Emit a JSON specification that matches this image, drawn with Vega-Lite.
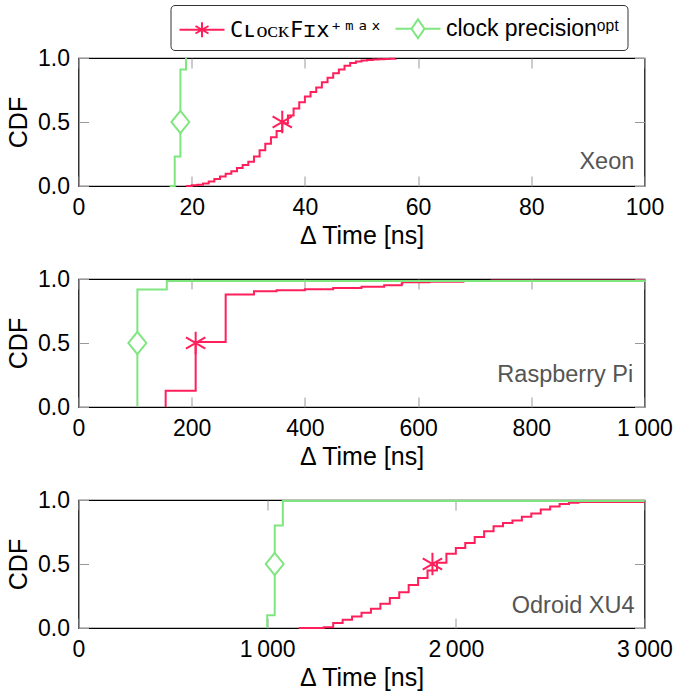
{
  "$schema": "https://vega.github.io/schema/vega-lite/v6.json",
  "padding": {"left": 5.5, "top": 3, "right": 0, "bottom": 0},
  "spacing": 18,
  "config": {
    "font": "Liberation Sans",
    "view": {"stroke": "black", "strokeWidth": 1.2},
    "axis": {
      "labelFont": "Liberation Sans", "labelFontSize": 23, "labelColor": "black",
      "titleFont": "Liberation Sans", "titleFontSize": 25, "titleFontWeight": "normal", "titleColor": "black",
      "tickColor": "#999", "tickSize": -10, "tickWidth": 1, "grid": false, "domain": false,
      "labelFlush": false, "labelOverlap": false
    },
    "axisX": {"labelPadding": 20, "titlePadding": 4},
    "axisY": {"labelPadding": 19, "titlePadding": 6}
  },
  "datasets": {
    "cdf": [
      {"p": "Xeon", "s": "ClockFix", "t": 19, "v": 0},
      {"p": "Xeon", "s": "ClockFix", "t": 20, "v": 0.005},
      {"p": "Xeon", "s": "ClockFix", "t": 21, "v": 0.01},
      {"p": "Xeon", "s": "ClockFix", "t": 22, "v": 0.02},
      {"p": "Xeon", "s": "ClockFix", "t": 23, "v": 0.035},
      {"p": "Xeon", "s": "ClockFix", "t": 24, "v": 0.055},
      {"p": "Xeon", "s": "ClockFix", "t": 25, "v": 0.075},
      {"p": "Xeon", "s": "ClockFix", "t": 26, "v": 0.095},
      {"p": "Xeon", "s": "ClockFix", "t": 27, "v": 0.115},
      {"p": "Xeon", "s": "ClockFix", "t": 28, "v": 0.14},
      {"p": "Xeon", "s": "ClockFix", "t": 29, "v": 0.165},
      {"p": "Xeon", "s": "ClockFix", "t": 30, "v": 0.19},
      {"p": "Xeon", "s": "ClockFix", "t": 31, "v": 0.23},
      {"p": "Xeon", "s": "ClockFix", "t": 32, "v": 0.28},
      {"p": "Xeon", "s": "ClockFix", "t": 33, "v": 0.33},
      {"p": "Xeon", "s": "ClockFix", "t": 34, "v": 0.38},
      {"p": "Xeon", "s": "ClockFix", "t": 35, "v": 0.43},
      {"p": "Xeon", "s": "ClockFix", "t": 36, "v": 0.49},
      {"p": "Xeon", "s": "ClockFix", "t": 37, "v": 0.55},
      {"p": "Xeon", "s": "ClockFix", "t": 38, "v": 0.605},
      {"p": "Xeon", "s": "ClockFix", "t": 39, "v": 0.655},
      {"p": "Xeon", "s": "ClockFix", "t": 40, "v": 0.70},
      {"p": "Xeon", "s": "ClockFix", "t": 41, "v": 0.735},
      {"p": "Xeon", "s": "ClockFix", "t": 42, "v": 0.77},
      {"p": "Xeon", "s": "ClockFix", "t": 43, "v": 0.81},
      {"p": "Xeon", "s": "ClockFix", "t": 44, "v": 0.845},
      {"p": "Xeon", "s": "ClockFix", "t": 45, "v": 0.88},
      {"p": "Xeon", "s": "ClockFix", "t": 46, "v": 0.91},
      {"p": "Xeon", "s": "ClockFix", "t": 47, "v": 0.94},
      {"p": "Xeon", "s": "ClockFix", "t": 48, "v": 0.96},
      {"p": "Xeon", "s": "ClockFix", "t": 49, "v": 0.972},
      {"p": "Xeon", "s": "ClockFix", "t": 50, "v": 0.98},
      {"p": "Xeon", "s": "ClockFix", "t": 51, "v": 0.985},
      {"p": "Xeon", "s": "ClockFix", "t": 52, "v": 0.988},
      {"p": "Xeon", "s": "ClockFix", "t": 53, "v": 0.99},
      {"p": "Xeon", "s": "ClockFix", "t": 54, "v": 0.992},
      {"p": "Xeon", "s": "ClockFix", "t": 55, "v": 0.994},
      {"p": "Xeon", "s": "ClockFix", "t": 56, "v": 0.995},
      {"p": "Xeon", "s": "clock precision", "t": 16.1, "v": 0},
      {"p": "Xeon", "s": "clock precision", "t": 17, "v": 0.23},
      {"p": "Xeon", "s": "clock precision", "t": 18, "v": 0.91},
      {"p": "Xeon", "s": "clock precision", "t": 19, "v": 1.0},
      {"p": "Raspberry Pi", "s": "ClockFix", "t": 154, "v": 0},
      {"p": "Raspberry Pi", "s": "ClockFix", "t": 154, "v": 0.127},
      {"p": "Raspberry Pi", "s": "ClockFix", "t": 207, "v": 0.508},
      {"p": "Raspberry Pi", "s": "ClockFix", "t": 260, "v": 0.879},
      {"p": "Raspberry Pi", "s": "ClockFix", "t": 310, "v": 0.905},
      {"p": "Raspberry Pi", "s": "ClockFix", "t": 350, "v": 0.912},
      {"p": "Raspberry Pi", "s": "ClockFix", "t": 400, "v": 0.92},
      {"p": "Raspberry Pi", "s": "ClockFix", "t": 450, "v": 0.93},
      {"p": "Raspberry Pi", "s": "ClockFix", "t": 500, "v": 0.94},
      {"p": "Raspberry Pi", "s": "ClockFix", "t": 540, "v": 0.952},
      {"p": "Raspberry Pi", "s": "ClockFix", "t": 571, "v": 0.963},
      {"p": "Raspberry Pi", "s": "ClockFix", "t": 572, "v": 0.975},
      {"p": "Raspberry Pi", "s": "ClockFix", "t": 620, "v": 0.978},
      {"p": "Raspberry Pi", "s": "ClockFix", "t": 680, "v": 0.984},
      {"p": "Raspberry Pi", "s": "ClockFix", "t": 730, "v": 0.988},
      {"p": "Raspberry Pi", "s": "ClockFix", "t": 1000, "v": 0.988},
      {"p": "Raspberry Pi", "s": "clock precision", "t": 104, "v": 0},
      {"p": "Raspberry Pi", "s": "clock precision", "t": 104, "v": 0.918},
      {"p": "Raspberry Pi", "s": "clock precision", "t": 156, "v": 0.985},
      {"p": "Raspberry Pi", "s": "clock precision", "t": 1000, "v": 0.99},
      {"p": "Odroid XU4", "s": "ClockFix", "t": 1167, "v": 0},
      {"p": "Odroid XU4", "s": "ClockFix", "t": 1300, "v": 0.005},
      {"p": "Odroid XU4", "s": "ClockFix", "t": 1350, "v": 0.04},
      {"p": "Odroid XU4", "s": "ClockFix", "t": 1400, "v": 0.065},
      {"p": "Odroid XU4", "s": "ClockFix", "t": 1450, "v": 0.09},
      {"p": "Odroid XU4", "s": "ClockFix", "t": 1500, "v": 0.12},
      {"p": "Odroid XU4", "s": "ClockFix", "t": 1550, "v": 0.15},
      {"p": "Odroid XU4", "s": "ClockFix", "t": 1600, "v": 0.19},
      {"p": "Odroid XU4", "s": "ClockFix", "t": 1650, "v": 0.235},
      {"p": "Odroid XU4", "s": "ClockFix", "t": 1700, "v": 0.28},
      {"p": "Odroid XU4", "s": "ClockFix", "t": 1750, "v": 0.335},
      {"p": "Odroid XU4", "s": "ClockFix", "t": 1800, "v": 0.39},
      {"p": "Odroid XU4", "s": "ClockFix", "t": 1850, "v": 0.45},
      {"p": "Odroid XU4", "s": "ClockFix", "t": 1900, "v": 0.51},
      {"p": "Odroid XU4", "s": "ClockFix", "t": 1950, "v": 0.58},
      {"p": "Odroid XU4", "s": "ClockFix", "t": 2000, "v": 0.625},
      {"p": "Odroid XU4", "s": "ClockFix", "t": 2050, "v": 0.665},
      {"p": "Odroid XU4", "s": "ClockFix", "t": 2100, "v": 0.71},
      {"p": "Odroid XU4", "s": "ClockFix", "t": 2150, "v": 0.755},
      {"p": "Odroid XU4", "s": "ClockFix", "t": 2200, "v": 0.795},
      {"p": "Odroid XU4", "s": "ClockFix", "t": 2250, "v": 0.82},
      {"p": "Odroid XU4", "s": "ClockFix", "t": 2300, "v": 0.84},
      {"p": "Odroid XU4", "s": "ClockFix", "t": 2350, "v": 0.87},
      {"p": "Odroid XU4", "s": "ClockFix", "t": 2400, "v": 0.895},
      {"p": "Odroid XU4", "s": "ClockFix", "t": 2450, "v": 0.925},
      {"p": "Odroid XU4", "s": "ClockFix", "t": 2500, "v": 0.95},
      {"p": "Odroid XU4", "s": "ClockFix", "t": 2550, "v": 0.968},
      {"p": "Odroid XU4", "s": "ClockFix", "t": 2600, "v": 0.978},
      {"p": "Odroid XU4", "s": "ClockFix", "t": 2650, "v": 0.985},
      {"p": "Odroid XU4", "s": "ClockFix", "t": 3000, "v": 0.985},
      {"p": "Odroid XU4", "s": "clock precision", "t": 1000, "v": 0},
      {"p": "Odroid XU4", "s": "clock precision", "t": 1000, "v": 0.1},
      {"p": "Odroid XU4", "s": "clock precision", "t": 1040, "v": 0.8},
      {"p": "Odroid XU4", "s": "clock precision", "t": 1083, "v": 0.993},
      {"p": "Odroid XU4", "s": "clock precision", "t": 3000, "v": 0.993}
    ],
    "med": [
      {"p": "Xeon", "m": "ClockFix median", "t": 36, "v": 0.5},
      {"p": "Xeon", "m": "clock precision median", "t": 18, "v": 0.5},
      {"p": "Raspberry Pi", "m": "ClockFix median", "t": 207, "v": 0.5},
      {"p": "Raspberry Pi", "m": "clock precision median", "t": 104, "v": 0.5},
      {"p": "Odroid XU4", "m": "ClockFix median", "t": 1876, "v": 0.5},
      {"p": "Odroid XU4", "m": "clock precision median", "t": 1040, "v": 0.5}
    ]
  },
  "resolve": {"scale": {"x": "independent", "color": "independent", "stroke": "independent", "shape": "independent"}},
  "vconcat": [
    {
      "width": 566, "height": 128,
      "resolve": {"axis": {"x": "independent", "y": "independent"}},
      "layer": [
        {
          "data": {"name": "cdf"},
          "transform": [{"filter": "datum.p === 'Xeon'"}],
          "mark": {"type": "line", "interpolate": "step-after", "strokeWidth": 2},
          "encoding": {
            "x": {"field": "t", "type": "quantitative", "scale": {"domain": [0, 100], "nice": false, "zero": false},
                  "axis": {"values": [0, 20, 40, 60, 80, 100], "title": "Δ Time [ns]"}},
            "y": {"field": "v", "type": "quantitative", "scale": {"domain": [0, 1], "nice": false},
                  "axis": {"values": [0, 0.5, 1], "format": ".1f", "title": "CDF"}},
            "color": {"field": "s", "type": "nominal",
              "scale": {"domain": ["ClockFix", "clock precision"], "range": ["#ff1f5b", "#7fe67f"]},
              "legend": {
                "orient": "none", "legendX": 92, "legendY": -53, "direction": "horizontal", "title": null,
                "strokeColor": "#333", "cornerRadius": 4, "padding": 7.5, "fillColor": "white",
                "symbolSize": 900, "symbolStrokeWidth": 2, "symbolOffset": 8, "labelFontSize": 23, "labelOffset": 12, "columnPadding": 8,
                "labelLimit": 0, "labelColor": "black",
                "labelExpr": "datum.value === 'ClockFix' ? 'CʟᴏᴄᴋFɪx⁺ᵐᵃˣ' : 'clock precisionᵒᵖᵗ'",
                "encode": {
                  "symbols": {"update": {
                    "shape": {"signal": "datum.value === 'ClockFix' ? 'M-1.5,0L1.5,0M0,-0.5L0,0.5M-0.433,-0.25L0.433,0.25M-0.433,0.25L0.433,-0.25' : 'M-1.5,0L-0.43,0M0.43,0L1.5,0M0,-0.63L0.43,0L0,0.63L-0.43,0Z'"},
                    "fill": {"value": "white"}
                  }},
                  "labels": {"update": {
                    "font": {"signal": "datum.value === 'ClockFix' ? 'DejaVu Sans Mono' : 'Liberation Sans'"},
                    "fontSize": {"signal": "datum.value === 'ClockFix' ? 22 : 23"}
                  }}
                }
              }
            }
          }
        },
        {
          "data": {"name": "med"},
          "transform": [{"filter": "datum.p === 'Xeon'"}],
          "mark": {"type": "point", "filled": false, "fill": "white", "fillOpacity": 1, "strokeWidth": 2, "size": 500, "opacity": 1},
          "encoding": {
            "x": {"field": "t", "type": "quantitative", "scale": {"domain": [0, 100], "nice": false, "zero": false},
                  "axis": {"orient": "top", "values": [0, 20, 40, 60, 80, 100], "labels": false, "title": null}},
            "y": {"field": "v", "type": "quantitative", "scale": {"domain": [0, 1], "nice": false},
                  "axis": {"orient": "right", "values": [0, 0.5, 1], "labels": false, "title": null}},
            "stroke": {"field": "m", "type": "nominal",
              "scale": {"domain": ["ClockFix median", "clock precision median"], "range": ["#ff1f5b", "#7fe67f"]}, "legend": null},
            "shape": {"field": "m", "type": "nominal",
              "scale": {"domain": ["ClockFix median", "clock precision median"], "range": ["M0,-1L0,1M-0.866,-0.5L0.866,0.5M-0.866,0.5L0.866,-0.5", "M0,-1L0.8,0L0,1L-0.8,0Z"]}, "legend": null}
          }
        },
        {
          "data": {"values": [{}]},
          "mark": {"type": "text", "text": "Xeon", "align": "right", "baseline": "alphabetic", "fontSize": 23.5, "color": "#555"},
          "encoding": {
            "x": {"datum": 98.2, "type": "quantitative", "scale": {"domain": [0, 100], "nice": false, "zero": false}, "axis": null},
            "y": {"datum": 0.13, "type": "quantitative", "scale": {"domain": [0, 1], "nice": false}, "axis": null}
          }
        }
      ]
    },
    {
      "width": 566, "height": 128,
      "resolve": {"axis": {"x": "independent", "y": "independent"}},
      "layer": [
        {
          "data": {"name": "cdf"},
          "transform": [{"filter": "datum.p === 'Raspberry Pi'"}],
          "mark": {"type": "line", "interpolate": "step-after", "strokeWidth": 2},
          "encoding": {
            "x": {"field": "t", "type": "quantitative", "scale": {"domain": [0, 1000], "nice": false, "zero": false},
                  "axis": {"values": [0, 200, 400, 600, 800, 1000], "title": "Δ Time [ns]", "labelExpr": "replace(format(datum.value, ','), ',', '\u2009')"}},
            "y": {"field": "v", "type": "quantitative", "scale": {"domain": [0, 1], "nice": false},
                  "axis": {"values": [0, 0.5, 1], "format": ".1f", "title": "CDF"}},
            "color": {"field": "s", "type": "nominal",
              "scale": {"domain": ["ClockFix", "clock precision"], "range": ["#ff1f5b", "#7fe67f"]}, "legend": null}
          }
        },
        {
          "data": {"name": "med"},
          "transform": [{"filter": "datum.p === 'Raspberry Pi'"}],
          "mark": {"type": "point", "filled": false, "fill": "white", "fillOpacity": 1, "strokeWidth": 2, "size": 500, "opacity": 1},
          "encoding": {
            "x": {"field": "t", "type": "quantitative", "scale": {"domain": [0, 1000], "nice": false, "zero": false},
                  "axis": {"orient": "top", "values": [0, 200, 400, 600, 800, 1000], "labels": false, "title": null}},
            "y": {"field": "v", "type": "quantitative", "scale": {"domain": [0, 1], "nice": false},
                  "axis": {"orient": "right", "values": [0, 0.5, 1], "labels": false, "title": null}},
            "stroke": {"field": "m", "type": "nominal",
              "scale": {"domain": ["ClockFix median", "clock precision median"], "range": ["#ff1f5b", "#7fe67f"]}, "legend": null},
            "shape": {"field": "m", "type": "nominal",
              "scale": {"domain": ["ClockFix median", "clock precision median"], "range": ["M0,-1L0,1M-0.866,-0.5L0.866,0.5M-0.866,0.5L0.866,-0.5", "M0,-1L0.8,0L0,1L-0.8,0Z"]}, "legend": null}
          }
        },
        {
          "data": {"values": [{}]},
          "mark": {"type": "text", "text": "Raspberry Pi", "align": "right", "baseline": "alphabetic", "fontSize": 23.5, "color": "#555"},
          "encoding": {
            "x": {"datum": 980, "type": "quantitative", "scale": {"domain": [0, 1000], "nice": false, "zero": false}, "axis": null},
            "y": {"datum": 0.197, "type": "quantitative", "scale": {"domain": [0, 1], "nice": false}, "axis": null}
          }
        }
      ]
    },
    {
      "width": 566, "height": 128,
      "resolve": {"axis": {"x": "independent", "y": "independent"}},
      "layer": [
        {
          "data": {"name": "cdf"},
          "transform": [{"filter": "datum.p === 'Odroid XU4'"}],
          "mark": {"type": "line", "interpolate": "step-after", "strokeWidth": 2},
          "encoding": {
            "x": {"field": "t", "type": "quantitative", "scale": {"domain": [0, 3000], "nice": false, "zero": false},
                  "axis": {"values": [0, 1000, 2000, 3000], "title": "Δ Time [ns]", "labelExpr": "replace(format(datum.value, ','), ',', '\u2009')"}},
            "y": {"field": "v", "type": "quantitative", "scale": {"domain": [0, 1], "nice": false},
                  "axis": {"values": [0, 0.5, 1], "format": ".1f", "title": "CDF"}},
            "color": {"field": "s", "type": "nominal",
              "scale": {"domain": ["ClockFix", "clock precision"], "range": ["#ff1f5b", "#7fe67f"]}, "legend": null}
          }
        },
        {
          "data": {"name": "med"},
          "transform": [{"filter": "datum.p === 'Odroid XU4'"}],
          "mark": {"type": "point", "filled": false, "fill": "white", "fillOpacity": 1, "strokeWidth": 2, "size": 500, "opacity": 1},
          "encoding": {
            "x": {"field": "t", "type": "quantitative", "scale": {"domain": [0, 3000], "nice": false, "zero": false},
                  "axis": {"orient": "top", "values": [0, 1000, 2000, 3000], "labels": false, "title": null}},
            "y": {"field": "v", "type": "quantitative", "scale": {"domain": [0, 1], "nice": false},
                  "axis": {"orient": "right", "values": [0, 0.5, 1], "labels": false, "title": null}},
            "stroke": {"field": "m", "type": "nominal",
              "scale": {"domain": ["ClockFix median", "clock precision median"], "range": ["#ff1f5b", "#7fe67f"]}, "legend": null},
            "shape": {"field": "m", "type": "nominal",
              "scale": {"domain": ["ClockFix median", "clock precision median"], "range": ["M0,-1L0,1M-0.866,-0.5L0.866,0.5M-0.866,0.5L0.866,-0.5", "M0,-1L0.8,0L0,1L-0.8,0Z"]}, "legend": null}
          }
        },
        {
          "data": {"values": [{}]},
          "mark": {"type": "text", "text": "Odroid XU4", "align": "right", "baseline": "alphabetic", "fontSize": 23.5, "color": "#555"},
          "encoding": {
            "x": {"datum": 2947, "type": "quantitative", "scale": {"domain": [0, 3000], "nice": false, "zero": false}, "axis": null},
            "y": {"datum": 0.12, "type": "quantitative", "scale": {"domain": [0, 1], "nice": false}, "axis": null}
          }
        }
      ]
    }
  ]
}
